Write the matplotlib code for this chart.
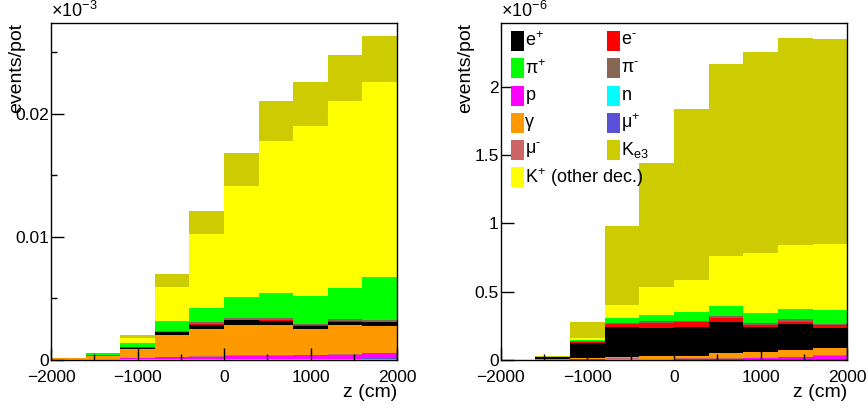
import numpy as np
import matplotlib
matplotlib.use("Agg")
import matplotlib.pyplot as plt
from matplotlib.patches import Rectangle
from matplotlib.ticker import FuncFormatter

plt.rcParams['font.family'] = ['Liberation Sans', 'DejaVu Sans']
plt.rcParams['mathtext.fontset'] = 'custom'
plt.rcParams['mathtext.rm'] = 'Liberation Sans'
plt.rcParams['mathtext.it'] = 'Liberation Sans:italic'
plt.rcParams['mathtext.default'] = 'regular'

# ---- data ----
bin_edges = [-2000, -1600, -1200, -800, -400, 0, 400, 800, 1200, 1600, 2000]

species = ['n', 'mu_plus', 'p', 'mu_minus', 'gamma', 'e_plus', 'e_minus',
           'pi_minus', 'pi_plus', 'K_other', 'Ke3']
labels = {'e_plus': 'e$^{+}$', 'e_minus': 'e$^{\u2010}$', 'pi_plus': 'π$^{+}$',
          'pi_minus': 'π$^{\u2010}$', 'p': 'p', 'n': 'n', 'gamma': 'γ',
          'mu_plus': 'μ$^{+}$', 'mu_minus': 'μ$^{\u2010}$', 'Ke3': 'K$_{e3}$',
          'K_other': 'K$^{+}$ (other dec.)'}
colors = {'e_plus': '#000000', 'e_minus': '#ff0000', 'pi_plus': '#00ff00',
          'pi_minus': '#886655', 'p': '#ff00ff', 'n': '#00ffff',
          'gamma': '#ff9900', 'mu_plus': '#5a50d8', 'mu_minus': '#cc6666',
          'Ke3': '#cccc00', 'K_other': '#ffff00'}
legend_rows = [['e_plus', 'e_minus'], ['pi_plus', 'pi_minus'], ['p', 'n'],
               ['gamma', 'mu_plus'], ['mu_minus', 'Ke3'], ['K_other']]

# left panel (axis units, shown with x10^-3 label)
left_n        = [0.00002, 0.00002, 0.00002, 0.00002, 0.00002, 0.00002, 0.00002, 0.00002, 0.00002, 0.00002]
left_mu_plus  = [0.0,     0.00001, 0.00002, 0.00002, 0.00003, 0.00003, 0.00003, 0.00004, 0.00005, 0.00008]
left_p        = [0.00002, 0.00004, 0.00010, 0.00015, 0.00019, 0.00025, 0.00025, 0.00027, 0.00033, 0.00042]
left_mu_minus = [0.0,     0.00001, 0.00000, 0.00003, 0.00003, 0.00003, 0.00003, 0.00003, 0.00004, 0.00003]
left_gamma    = [0.00005, 0.00017, 0.00068, 0.00175, 0.00222, 0.00246, 0.00244, 0.00213, 0.00235, 0.00219]
left_e_plus   = [0.00001, 0.00003, 0.00014, 0.00025, 0.00033, 0.00039, 0.00038, 0.00027, 0.00025, 0.00028]
left_e_minus  = [0.0,     0.00001, 0.00003, 0.00004, 0.00005, 0.00006, 0.00006, 0.00005, 0.00012, 0.00005]
left_pi_minus = [0.00002, 0.00008, 0.00005, 0.00007, 0.00017, 0.00016, 0.00019, 0.00012, 0.00010, 0.00011]
left_pi_plus  = [0.00001, 0.00012, 0.00028, 0.00082, 0.00115, 0.00172, 0.00205, 0.00222, 0.00260, 0.00353]
left_K_other  = [0.00001, 0.00003, 0.00041, 0.00274, 0.00603, 0.00899, 0.01233, 0.01389, 0.01521, 0.01592]
left_Ke3      = [0.00001, 0.00003, 0.00027, 0.00104, 0.00189, 0.00268, 0.00326, 0.00354, 0.00375, 0.00375]

# right panel (units of 1e-6)
right_n        = [0.003, 0.002, 0.003, 0.004, 0.004, 0.003, 0.003, 0.003, 0.003, 0.003]
right_mu_plus  = [0.0,   0.0,   0.001, 0.002, 0.002, 0.002, 0.002, 0.002, 0.003, 0.005]
right_p        = [0.0,   0.001, 0.002, 0.003, 0.002, 0.005, 0.005, 0.008, 0.016, 0.024]
right_mu_minus = [0.0,   0.0,   0.001, 0.002, 0.002, 0.002, 0.002, 0.002, 0.002, 0.002]
right_gamma    = [0.0,   0.002, 0.005, 0.013, 0.019, 0.020, 0.037, 0.041, 0.052, 0.051]
right_e_plus   = [0.0,   0.015, 0.110, 0.215, 0.205, 0.212, 0.231, 0.183, 0.185, 0.152]
right_e_minus  = [0.0,   0.002, 0.012, 0.023, 0.034, 0.032, 0.027, 0.020, 0.020, 0.019]
right_pi_minus = [0.0,   0.001, 0.003, 0.006, 0.015, 0.012, 0.017, 0.012, 0.017, 0.007]
right_pi_plus  = [0.0,   0.001, 0.012, 0.037, 0.049, 0.061, 0.074, 0.073, 0.078, 0.105]
right_K_other  = [0.0,   0.001, 0.010, 0.097, 0.200, 0.236, 0.363, 0.436, 0.463, 0.481]
right_Ke3      = [0.0,   0.004, 0.117, 0.581, 0.907, 1.254, 1.405, 1.474, 1.515, 1.497]

left_data = {'n': left_n, 'mu_plus': left_mu_plus, 'p': left_p, 'mu_minus': left_mu_minus,
             'gamma': left_gamma, 'e_plus': left_e_plus, 'e_minus': left_e_minus,
             'pi_minus': left_pi_minus, 'pi_plus': left_pi_plus,
             'K_other': left_K_other, 'Ke3': left_Ke3}
right_data = {'n': right_n, 'mu_plus': right_mu_plus, 'p': right_p, 'mu_minus': right_mu_minus,
              'gamma': right_gamma, 'e_plus': right_e_plus, 'e_minus': right_e_minus,
              'pi_minus': right_pi_minus, 'pi_plus': right_pi_plus,
              'K_other': right_K_other, 'Ke3': right_Ke3}

left_yticks = [0, 0.01, 0.02]
left_yminor = [0.005, 0.015, 0.025]
right_yticks = [0, 0.5, 1, 1.5, 2]
x_major = [-2000, -1000, 0, 1000, 2000]
x_minor = [-1500, -500, 500, 1500]

W, H = 868, 409
fig = plt.figure(figsize=(W / 100, H / 100), dpi=100)


def make_axes(px_left, px_top, px_w, px_h):
    return fig.add_axes([px_left / W, 1 - (px_top + px_h) / H, px_w / W, px_h / H])


axL = make_axes(51, 23, 346, 336.5)
axR = make_axes(500.7, 22.7, 346.6, 337.3)

edges = np.array(bin_edges, dtype=float)
lefts = edges[:-1]
widths = np.diff(edges)


def draw_stack(ax, data):
    bottom = np.zeros(len(lefts))
    for sp in species:
        vals = np.array(data[sp], dtype=float)
        ax.bar(lefts, vals, width=widths, bottom=bottom, align='edge',
               color=colors[sp], linewidth=0)
        bottom += vals


draw_stack(axL, left_data)
draw_stack(axR, right_data)

fmt = FuncFormatter(lambda v, p: ('%g' % v).replace('-', '\u2212'))

for ax in (axL, axR):
    ax.set_xlim(-2000, 2000)
    ax.set_xticks(x_major)
    ax.set_xticks(x_minor, minor=True)
    ax.xaxis.set_major_formatter(fmt)
    ax.tick_params(axis='both', which='both', direction='in', top=False, right=False,
                   labelsize=12.5, width=1, colors='black')
    ax.tick_params(axis='x', which='major', length=9, pad=7.5)
    ax.tick_params(axis='x', which='minor', length=4.5)
    ax.tick_params(axis='y', which='major', length=9, pad=1.5)
    ax.tick_params(axis='y', which='minor', length=4.5)
    for s in ax.spines.values():
        s.set_linewidth(1)
        s.set_color('black')
    ax.set_xlabel('z (cm)', loc='right', fontsize=14, labelpad=-1)
    ax.text(-0.10, 1.0, 'events/pot', rotation=90, ha='center', va='top',
            transform=ax.transAxes, fontsize=14)

axL.set_ylim(0, 0.0274)
axL.set_yticks(left_yticks)
axL.set_yticks(left_yminor, minor=True)
axL.yaxis.set_major_formatter(fmt)
axL.text(0.0, 1.005, '×10$^{-3}$', transform=axL.transAxes, ha='left', va='bottom', fontsize=13)

axR.set_ylim(0, 2.468)
axR.set_yticks(right_yticks)
axR.yaxis.set_major_formatter(fmt)
axR.text(0.0, 1.005, '×10$^{-6}$', transform=axR.transAxes, ha='left', va='bottom', fontsize=13)

# legend (manual, ROOT-like, row-major)
row_y = [0.9466, 0.8648, 0.7835, 0.7035, 0.6225, 0.5416]
col_x = [0.0297, 0.3067]
sw_w, sw_h = 0.0375, 0.0593
for r, row in enumerate(legend_rows):
    for c, sp in enumerate(row):
        axR.add_patch(Rectangle((col_x[c], row_y[r] - sw_h / 2), sw_w, sw_h,
                                transform=axR.transAxes, facecolor=colors[sp],
                                edgecolor='none', zorder=5))
        axR.text(col_x[c] + sw_w + 0.004, row_y[r], labels[sp], transform=axR.transAxes,
                 ha='left', va='center', fontsize=13, zorder=6)

fig.savefig('out.png', dpi=100)
